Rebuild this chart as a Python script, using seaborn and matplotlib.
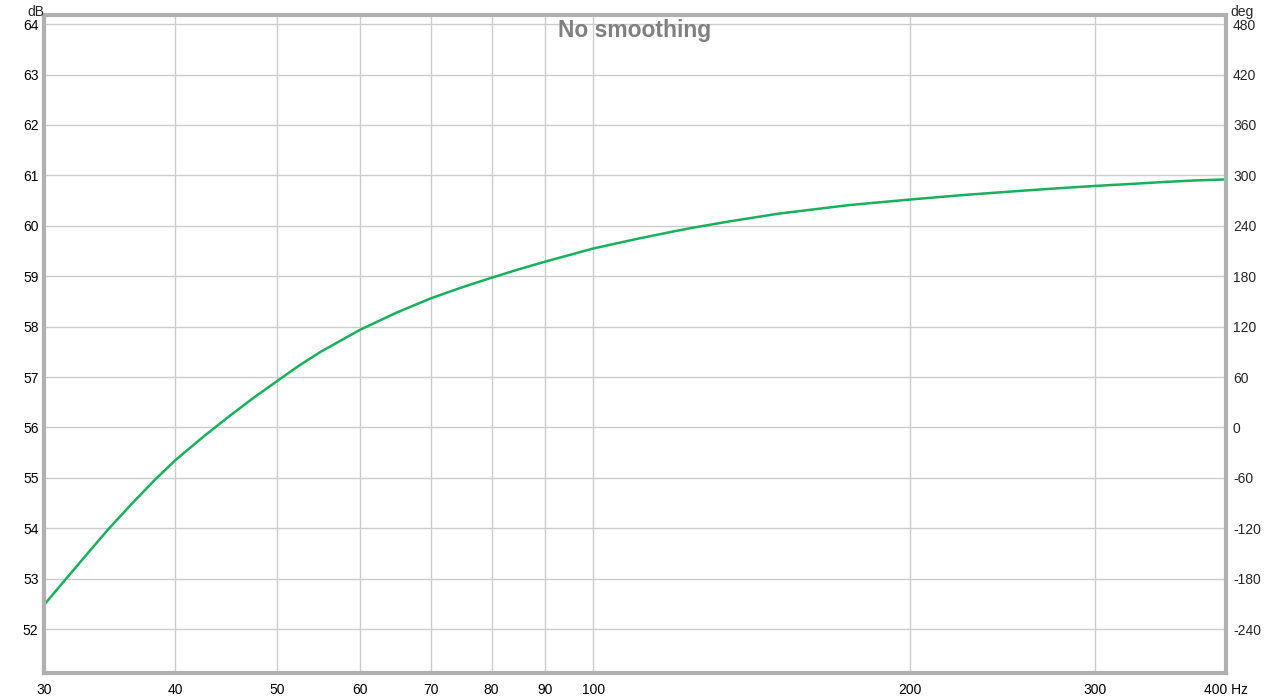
import matplotlib
matplotlib.use("Agg")
import matplotlib.pyplot as plt
import pandas as pd
import seaborn as sns

# Frequency response (Hz, dB)
freq_hz = [30, 31.4, 33, 34.5, 36.3, 38.2, 40, 42.5, 45, 47.5, 50, 52.4, 55,
           60, 65, 70, 75, 80, 85, 90, 100, 110, 120, 125, 135, 150, 175, 200,
           225, 250, 275, 300, 325, 350, 375, 400]
spl_db = [52.48, 52.97, 53.50, 53.97, 54.47, 54.95, 55.35, 55.81, 56.22, 56.59,
          56.92, 57.22, 57.50, 57.94, 58.28, 58.56, 58.78, 58.97, 59.14, 59.29,
          59.55, 59.74, 59.90, 59.97, 60.09, 60.24, 60.41, 60.52, 60.61, 60.68,
          60.74, 60.79, 60.83, 60.87, 60.90, 60.92]

x_ticks = [30, 40, 50, 60, 70, 80, 90, 100, 200, 300, 400]
x_labels = ["30", "40", "50", "60", "70", "80", "90", "100", "200", "300", "400 Hz"]
db_ticks = list(range(52, 65))
deg_ticks = list(range(-240, 481, 60))

title = "No smoothing"
line_color = "#1aaf5d"
grid_color = "#cccccc"
frame_color = "#b0b0b0"

sns.set_style("white")
plt.rcParams["font.family"] = ["Liberation Sans", "DejaVu Sans"]
plt.rcParams["axes.unicode_minus"] = False

df = pd.DataFrame({"freq": freq_hz, "spl": spl_db})

fig = plt.figure(figsize=(12.8, 6.99), dpi=100)
ax = fig.add_axes([0.0344, 0.0372, 0.9234, 0.9413])

sns.lineplot(data=df, x="freq", y="spl", ax=ax, color=line_color, linewidth=1.8)

ax.set_xscale("log")
ax.set_xlim(30, 400)
ax.set_ylim(51.13, 64.18)
ax.set_xticks(x_ticks)
ax.set_xticklabels(x_labels)
ax.xaxis.set_minor_locator(matplotlib.ticker.NullLocator())
ax.set_yticks(db_ticks)
ax.set_xlabel("")
ax.set_ylabel("")
ax.grid(True, which="major", color=grid_color, linewidth=1)
ax.set_axisbelow(True)
ax.tick_params(axis="both", length=0, labelsize=10, colors="black", pad=4)
ax.tick_params(axis="x", pad=7)

for side in ["left", "right", "top", "bottom"]:
    ax.spines[side].set_color(frame_color)
    ax.spines[side].set_linewidth(3)

# phase axis on the right: 1 dB == 60 deg, 56 dB == 0 deg
ax2 = ax.twinx()
lo, hi = ax.get_ylim()
ax2.set_ylim((lo - 56) * 60, (hi - 56) * 60)
ax2.set_yticks(deg_ticks)
ax2.tick_params(axis="y", length=0, labelsize=10, pad=5)
for side in ["left", "right", "top", "bottom"]:
    ax2.spines[side].set_visible(False)

fig.text(0.021, 0.9935, "dB", fontsize=10, ha="left", va="top")
fig.text(0.961, 0.9935, "deg", fontsize=10, ha="left", va="top")

ax.text(0.5, 0.976, title, transform=ax.transAxes, ha="center", va="center",
        fontsize=16.5, fontweight="bold", color="#808080")

fig.savefig("out.png", dpi=100)
